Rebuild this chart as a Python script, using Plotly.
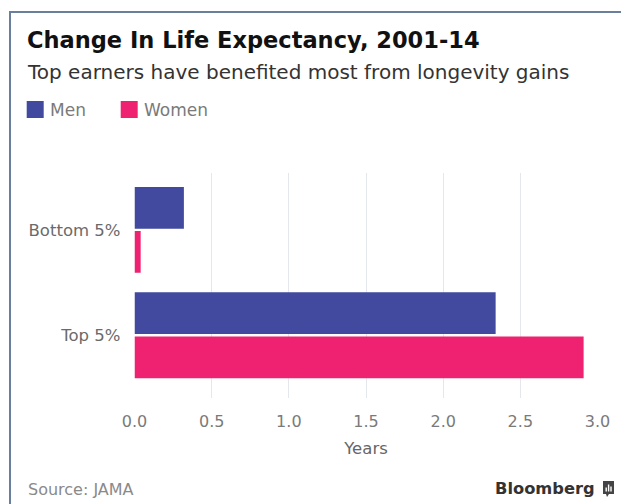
import plotly.graph_objects as go

categories = ["Bottom 5%", "Top 5%"]
men = [0.32, 2.34]
women = [0.04, 2.91]
x_ticks = [0, 0.5, 1.0, 1.5, 2.0, 2.5, 3.0]
x_tick_labels = ["0.0", "0.5", "1.0", "1.5", "2.0", "2.5", "3.0"]
series_names = ["Men", "Women"]

W, H = 621, 504
def px(x): return x / W
def py(y): return 1 - y / H

MEN_C = "#414a9e"
WOMEN_C = "#ee2270"
FONT = "DejaVu Sans"

fig = go.Figure()
fig.add_trace(go.Bar(y=categories, x=men, orientation="h", name=series_names[0],
                     marker=dict(color=MEN_C, line=dict(width=0))))
fig.add_trace(go.Bar(y=categories, x=women, orientation="h", name=series_names[1],
                     marker=dict(color=WOMEN_C, line=dict(width=0))))

fig.update_layout(
    width=W, height=H,
    margin=dict(l=0, r=0, t=0, b=0),
    paper_bgcolor="white", plot_bgcolor="white",
    barmode="group", bargap=0.161, bargroupgap=0.055,
    font=dict(family=FONT, color="#666666", size=14),
    showlegend=False,
    xaxis=dict(domain=[px(134.5), px(597.5)], range=[0, 3.0], tickvals=x_ticks,
               ticktext=x_tick_labels, showgrid=True, gridcolor="#e4e7ec", gridwidth=1,
               zeroline=False, showline=False, ticks="", tickfont=dict(size=16, color="#7a7a7a"),
               automargin=False, anchor="y", ticklabelstandoff=12,
               title=dict(text="Years", font=dict(size=16.5, color="#666666"), standoff=12)),
    yaxis=dict(domain=[py(398), py(173)], range=[1.596, -0.54], type="category",
               categoryorder="array", categoryarray=categories,
               showgrid=False, zeroline=False, showline=False, ticks="",
               tickfont=dict(size=16.5, color="#6a6a6a"), ticklabelstandoff=13, automargin=False),
)

# frame lines
FRAME_C = "#6a7f9c"
fig.add_shape(type="line", xref="paper", yref="paper", x0=px(10), x1=px(10), y0=py(12), y1=py(504),
              line=dict(color=FRAME_C, width=2))
fig.add_shape(type="line", xref="paper", yref="paper", x0=px(9), x1=px(621), y0=py(12), y1=py(12),
              line=dict(color=FRAME_C, width=2))

fig.add_annotation(text="<b>Change In Life Expectancy, 2001-14</b>", xref="paper", yref="paper",
                   x=px(25), y=py(40), xanchor="left", yanchor="middle", showarrow=False,
                   font=dict(size=22.5, color="#111111", family=FONT))
fig.add_annotation(text="Top earners have benefited most from longevity gains", xref="paper", yref="paper",
                   x=px(25), y=py(72), xanchor="left", yanchor="middle", showarrow=False,
                   font=dict(size=20, color="#333333", family=FONT))

# legend (manual)
legend_items = [(series_names[0], MEN_C, 26.7), (series_names[1], WOMEN_C, 120.7)]
for name, col, x0 in legend_items:
    fig.add_shape(type="rect", xref="paper", yref="paper", x0=px(x0), x1=px(x0 + 17),
                  y0=py(118), y1=py(101), fillcolor=col, line=dict(width=0))
    fig.add_annotation(text=name, xref="paper", yref="paper", x=px(x0 + 21.5), y=py(109.5),
                       xanchor="left", yanchor="middle", showarrow=False,
                       font=dict(size=17, color="#7a7a7a", family=FONT))

fig.add_annotation(text="Source: JAMA", xref="paper", yref="paper",
                   x=px(25.5), y=py(489), xanchor="left", yanchor="middle", showarrow=False,
                   font=dict(size=16, color="#8a8a8a", family=FONT))
fig.add_annotation(text="<b>Bloomberg</b>", xref="paper", yref="paper",
                   x=px(597), y=py(488), xanchor="right", yanchor="middle", showarrow=False,
                   font=dict(size=16.3, color="#333333", family=FONT))
# logo
fig.add_shape(type="rect", xref="paper", yref="paper", x0=px(603), x1=px(614), y0=py(494), y1=py(481),
              fillcolor="#444444", line=dict(width=0))
fig.add_shape(type="path", xref="paper", yref="paper",
              path=f"M {px(606)},{py(494)} L {px(609)},{py(494)} L {px(607)},{py(497)} Z",
              fillcolor="#444444", line=dict(width=0))
for i, h0 in enumerate([4, 7, 5]):
    x0 = 605.5 + i * 2.4
    fig.add_shape(type="rect", xref="paper", yref="paper", x0=px(x0), x1=px(x0 + 1.4),
                  y0=py(491.5), y1=py(491.5 - h0), fillcolor="white", line=dict(width=0))

fig.write_html("out.html")
